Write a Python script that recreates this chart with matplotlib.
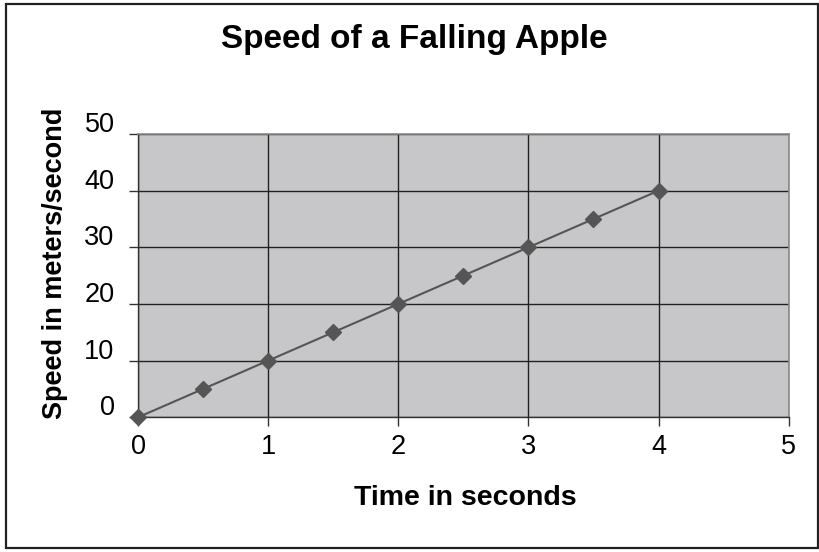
import matplotlib
matplotlib.use("Agg")
import matplotlib.pyplot as plt
import matplotlib.transforms as mtransforms
from matplotlib.patches import Rectangle

plt.rcParams['font.family'] = ['Liberation Sans', 'DejaVu Sans']

time_s = [0, 0.5, 1, 1.5, 2, 2.5, 3, 3.5, 4]
speed = [0, 5, 10, 15, 20, 25, 30, 35, 40]
x_ticks = [0, 1, 2, 3, 4, 5]
y_ticks = [0, 10, 20, 30, 40, 50]

W, H = 820, 552
fig = plt.figure(figsize=(W / 100, H / 100), dpi=100)
fig.patch.set_facecolor('white')
fig.patches.append(Rectangle((6 / W, 4 / H), 812 / W, 544 / H, transform=fig.transFigure,
                             fill=False, edgecolor='#222222', linewidth=1.6))

ax = fig.add_axes([138 / W, 1 - 417.3 / H, (788.7 - 138) / W, (417.3 - 134) / H])
ax.set_facecolor('#c7c7c9')
ax.set_xlim(0, 5)
ax.set_ylim(0, 50)
ax.set_xticks(x_ticks)
ax.set_yticks(y_ticks)
ax.grid(True, color='#222222', linewidth=1.0)
ax.set_axisbelow(True)
ax.plot(time_s, speed, color='#555555', linewidth=1.5, marker='D', markersize=8,
        markerfacecolor='#555555', markeredgecolor='#555555', clip_on=False, zorder=3)

for s in ['top', 'right']:
    ax.spines[s].set_color('#8a8a8a')
    ax.spines[s].set_linewidth(1.2)
for s in ['left', 'bottom']:
    ax.spines[s].set_color('#333333')
    ax.spines[s].set_linewidth(1.0)

ax.tick_params(axis='both', direction='out', length=6.5, width=1.0, color='#333333',
               labelsize=19.5)
ax.tick_params(axis='x', pad=5.5)
ax.tick_params(axis='y', pad=10.4)

# Y tick labels sit slightly above their gridlines in the reference
offset = mtransforms.ScaledTranslation(0, 12 / 100, fig.dpi_scale_trans)
for lbl in ax.get_yticklabels():
    lbl.set_transform(lbl.get_transform() + offset)

fig.text(465 / W, 1 - 505 / H, 'Time in seconds', fontsize=20.5, fontweight='bold',
         ha='center', va='baseline')
fig.text(55 / W, 1 - 263 / H, 'Speed in meters/second', fontsize=19.5, fontweight='bold',
         ha='center', va='center', rotation=90)
fig.text(414 / W, 1 - 48 / H, 'Speed of a Falling Apple', fontsize=24, fontweight='bold',
         ha='center', va='baseline')

fig.savefig('out.png', dpi=100)
